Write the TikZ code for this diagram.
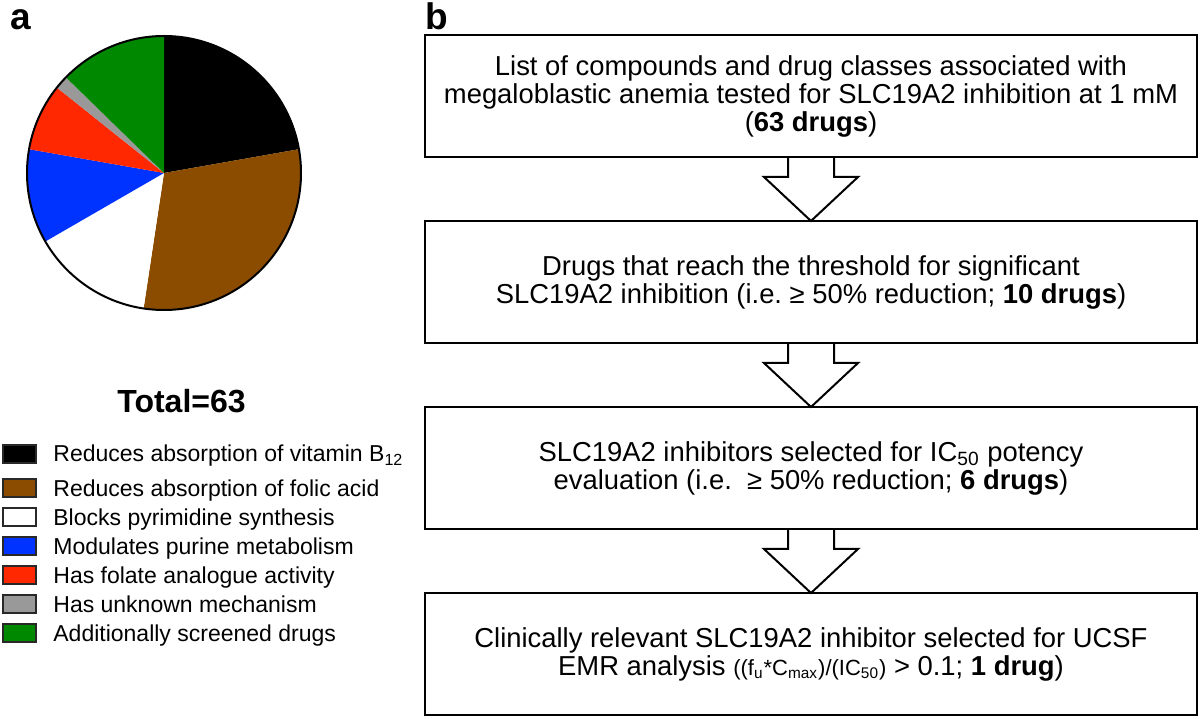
\documentclass[tikz,border=0pt]{standalone}
\usepackage{fontspec}
\setmainfont{Liberation Sans}
\usetikzlibrary{positioning}

\definecolor{drugbrown}{RGB}{139,76,0}
\definecolor{drugblue}{RGB}{0,51,255}
\definecolor{drugred}{RGB}{255,40,0}
\definecolor{druggray}{RGB}{153,153,153}
\definecolor{druggreen}{RGB}{0,136,0}
\definecolor{edgegray}{RGB}{40,40,40}

\tikzset{
  filterbox/.style={draw, line width=1pt, minimum width=386pt, minimum height=61pt,
    inner sep=0pt, outer sep=0pt, align=center, font={\fontsize{13.7pt}{14pt}\selectfont}},
  swatch/.style={draw=edgegray, line width=1pt, minimum width=16.5pt, minimum height=9pt,
    inner sep=0pt, outer sep=0pt},
  legtext/.style={inner sep=0pt, text height=8pt, text depth=0pt, anchor=west,
    font={\fontsize{11.5pt}{12pt}\selectfont}},
  panel/.style={anchor=base west, inner sep=0pt, font={\fontsize{18.5pt}{20pt}\bfseries\selectfont}},
  flowarrow/.style={line width=1pt, line join=miter},
}

\begin{document}
\begin{tikzpicture}[x=0.5pt, y=0.5pt]
\useasboundingbox (0,0) rectangle (1200,718);

\node[panel] (panela) at (10,688) {a};
\node[panel] (panelb) at (425,688) {b};

% pie, 63 drugs
\coordinate (piec) at (164,545);
\fill[black] (piec) -- ++(90:137) arc[start angle=90, end angle=10, radius=137] -- cycle;
\fill[drugbrown] (piec) -- ++(10:137) arc[start angle=10, end angle=-98.571, radius=137] -- cycle;
\fill[white] (piec) -- ++(-98.571:137) arc[start angle=-98.571, end angle=-150, radius=137] -- cycle;
\fill[drugblue] (piec) -- ++(-150:137) arc[start angle=-150, end angle=-190, radius=137] -- cycle;
\fill[drugred] (piec) -- ++(-190:137) arc[start angle=-190, end angle=-218.571, radius=137] -- cycle;
\fill[druggray] (piec) -- ++(-218.571:137) arc[start angle=-218.571, end angle=-224.286, radius=137] -- cycle;
\fill[druggreen] (piec) -- ++(-224.286:137) arc[start angle=-224.286, end angle=-270, radius=137] -- cycle;
\draw[line width=1pt] (piec) circle[radius=137];

\node[anchor=base, inner sep=0pt, font={\fontsize{16pt}{18pt}\bfseries\selectfont}] (total) at (181.5,305) {Total=63};

% legend
\node[swatch, fill=black] (vitb) at (19.5,264) {};
\node[legtext, right=8.5pt of vitb] (vitbtxt) {Reduces absorption of vitamin B\textsubscript{12}};
\node[swatch, fill=drugbrown, below=8.25pt of vitb] (folic) {};
\node[legtext, right=8.5pt of folic] (folictxt) {Reduces absorption of folic acid};
\node[swatch, fill=white, below=5.5pt of folic] (pyrim) {};
\node[legtext, right=8.5pt of pyrim] (pyrimtxt) {Blocks pyrimidine synthesis};
\node[swatch, fill=drugblue, below=5.5pt of pyrim] (purine) {};
\node[legtext, right=8.5pt of purine] (purinetxt) {Modulates purine metabolism};
\node[swatch, fill=drugred, below=5.5pt of purine] (folate) {};
\node[legtext, right=8.5pt of folate] (folatetxt) {Has folate analogue activity};
\node[swatch, fill=druggray, below=5.5pt of folate] (unknown) {};
\node[legtext, right=8.5pt of unknown] (unknowntxt) {Has unknown mechanism};
\node[swatch, fill=druggreen, below=5.5pt of unknown] (extra) {};
\node[legtext, right=8.5pt of extra] (extratxt) {Additionally screened drugs};

% screening steps
\node[filterbox] (screen) at (811,622) {List of compounds and drug classes associated with\\
  megaloblastic anemia tested for SLC19A2 inhibition at 1 mM\\ (\textbf{63 drugs})};
\node[filterbox, below=32pt of screen] (signif) {Drugs that reach the threshold for significant\\
  SLC19A2 inhibition (i.e.\ ≥ 50\% reduction; \textbf{10 drugs})};
\node[filterbox, below=32pt of signif] (potency) {SLC19A2 inhibitors selected for IC\textsubscript{50} potency\\
  evaluation (i.e.\ \ ≥ 50\% reduction; \textbf{6 drugs})};
\node[filterbox, below=32pt of potency] (clinical) {Clinically relevant SLC19A2 inhibitor selected for UCSF\\
  EMR analysis {\fontsize{11pt}{14pt}\selectfont((f\textsubscript{u}*C\textsubscript{max})/(IC\textsubscript{50})} > 0.1; \textbf{1 drug})};

\draw[flowarrow] ([xshift=-11.5pt]screen.south) -- ++(0,-10pt) -- ++(-12pt,0) -- (signif.north)
  -- ([xshift=23.5pt,yshift=-10pt]screen.south) -- ++(-12pt,0) -- ([xshift=11.5pt]screen.south);
\draw[flowarrow] ([xshift=-11.5pt]signif.south) -- ++(0,-10pt) -- ++(-12pt,0) -- (potency.north)
  -- ([xshift=23.5pt,yshift=-10pt]signif.south) -- ++(-12pt,0) -- ([xshift=11.5pt]signif.south);
\draw[flowarrow] ([xshift=-11.5pt]potency.south) -- ++(0,-10pt) -- ++(-12pt,0) -- (clinical.north)
  -- ([xshift=23.5pt,yshift=-10pt]potency.south) -- ++(-12pt,0) -- ([xshift=11.5pt]potency.south);

\end{tikzpicture}
\end{document}
